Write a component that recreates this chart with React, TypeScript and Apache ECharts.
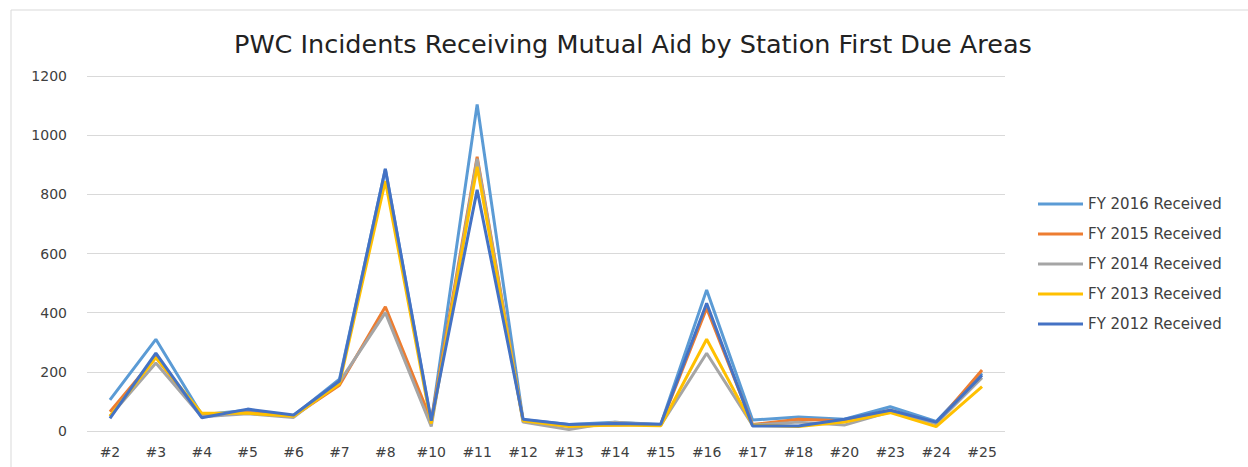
import React, { useEffect, useRef } from "react";
import * as echarts from "echarts";

const categories = ["#2", "#3", "#4", "#5", "#6", "#7", "#8", "#10", "#11", "#12", "#13", "#14", "#15", "#16", "#17", "#18", "#20", "#23", "#24", "#25"];
const fy2016 = [105, 310, 55, 70, 52, 175, 885, 30, 1104, 38, 22, 30, 22, 477, 37, 47, 40, 82, 32, 195];
const fy2015 = [65, 250, 50, 62, 50, 155, 420, 35, 927, 35, 18, 20, 22, 415, 22, 40, 35, 70, 25, 206];
const fy2014 = [50, 230, 48, 58, 46, 165, 400, 15, 920, 30, 5, 30, 20, 263, 20, 30, 20, 65, 25, 180];
const fy2013 = [50, 248, 60, 60, 50, 160, 845, 25, 893, 35, 15, 20, 18, 310, 20, 15, 30, 62, 15, 150];
const fy2012 = [43, 263, 45, 74, 54, 169, 886, 35, 815, 40, 22, 25, 23, 432, 17, 17, 40, 70, 30, 189];

const seriesNames = ["FY 2016 Received", "FY 2015 Received", "FY 2014 Received", "FY 2013 Received", "FY 2012 Received"];
const seriesData = [fy2016, fy2015, fy2014, fy2013, fy2012];
const seriesColors = ["#5B9BD5", "#ED7D31", "#A5A5A5", "#FFC000", "#4472C4"];

const titleText = "PWC Incidents Receiving Mutual Aid by Station First Due Areas";

export default function App() {
  const ref = useRef<HTMLDivElement>(null);
  useEffect(() => {
    if (!ref.current) return;
    const chart = echarts.init(ref.current, undefined, { renderer: "svg" });
    chart.setOption({
      animation: false,
      backgroundColor: "#ffffff",
      title: {
        text: titleText,
        left: 229,
        top: 26,
        textStyle: { fontFamily: "DejaVu Sans", fontSize: 25.5, fontWeight: "normal", color: "#222222" },
      },
      graphic: [
        {
          type: "rect",
          shape: { x: 11, y: 10, width: 1400, height: 600 },
          style: { fill: "none", stroke: "#d9d9d9", lineWidth: 1 },
          silent: true,
        },
      ],
      legend: {
        orient: "vertical",
        left: 1033,
        top: 191,
        itemWidth: 45,
        itemHeight: 3,
        itemGap: 14,
        icon: "rect",
        data: seriesNames,
        textStyle: { fontFamily: "DejaVu Sans", fontSize: 15, color: "#404040", lineHeight: 16 },
      },
      grid: { left: 87, right: 243, top: 76, bottom: 36, containLabel: false },
      xAxis: {
        type: "category",
        data: categories,
        boundaryGap: true,
        axisLine: { show: false },
        axisTick: { show: false },
        axisLabel: { fontFamily: "DejaVu Sans", fontSize: 14, color: "#404040", margin: 14 },
      },
      yAxis: {
        type: "value",
        min: 0,
        max: 1200,
        interval: 200,
        axisLine: { show: false },
        axisTick: { show: false },
        splitLine: { lineStyle: { color: "#d9d9d9", width: 1 } },
        axisLabel: {
          fontFamily: "DejaVu Sans",
          fontSize: 14,
          color: "#404040",
          margin: 20,
          formatter: (v: number) => String(v),
        },
      },
      series: seriesNames.map((name, i) => ({
        name,
        type: "line",
        data: seriesData[i],
        symbol: "none",
        color: seriesColors[i],
        lineStyle: { width: 3, color: seriesColors[i] },
      })),
    });
    return () => chart.dispose();
  }, []);
  return <div ref={ref} style={{ position: "fixed", left: 0, top: 0, width: 1248, height: 467 }} />;
}
